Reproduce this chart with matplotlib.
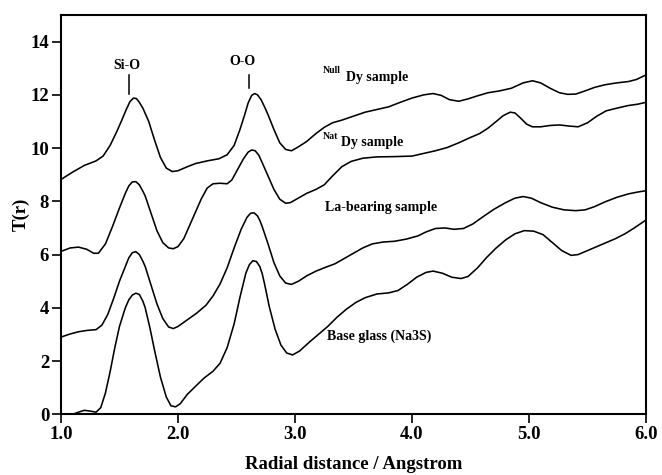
import matplotlib
matplotlib.use("Agg")
import matplotlib.pyplot as plt

plt.rcParams['font.family'] = ['Liberation Serif', 'DejaVu Serif']
plt.rcParams['font.weight'] = 'bold'

# ---- data ----
null_x = [1.00, 1.10, 1.20, 1.30, 1.36, 1.42, 1.48, 1.52, 1.56, 1.59, 1.62, 1.645, 1.67, 1.70,
          1.75, 1.80, 1.85, 1.90, 1.95, 2.00, 2.08, 2.15, 2.25, 2.35, 2.42, 2.48, 2.53, 2.57,
          2.60, 2.63, 2.655, 2.68, 2.71, 2.74, 2.77, 2.82, 2.87, 2.92, 2.97, 3.03, 3.10, 3.18,
          3.25, 3.32, 3.40, 3.50, 3.60, 3.70, 3.80, 3.90, 4.00, 4.10, 4.18, 4.25, 4.32, 4.40,
          4.48, 4.55, 4.65, 4.75, 4.85, 4.95, 5.03, 5.10, 5.18, 5.26, 5.33, 5.40, 5.48, 5.56,
          5.65, 5.75, 5.85, 5.92, 6.00]
null_y = [8.82, 9.10, 9.35, 9.52, 9.70, 10.10, 10.65, 11.05, 11.47, 11.75, 11.88, 11.86, 11.72, 11.50,
          11.00, 10.30, 9.65, 9.25, 9.12, 9.15, 9.30, 9.42, 9.52, 9.60, 9.75, 10.10, 10.70, 11.25,
          11.70, 11.98, 12.05, 12.00, 11.82, 11.55, 11.25, 10.70, 10.20, 9.95, 9.90, 10.05, 10.25, 10.55,
          10.78, 10.95, 11.05, 11.20, 11.35, 11.45, 11.55, 11.72, 11.88, 12.00, 12.05, 11.98, 11.82, 11.76,
          11.85, 11.95, 12.08, 12.15, 12.25, 12.45, 12.53, 12.45, 12.25, 12.08, 12.02, 12.03, 12.15, 12.28,
          12.38, 12.45, 12.50, 12.58, 12.75]

nat_x = [1.00, 1.08, 1.15, 1.22, 1.28, 1.32, 1.38, 1.44, 1.50, 1.55, 1.58, 1.61, 1.64, 1.67,
         1.70, 1.72, 1.77, 1.82, 1.87, 1.92, 1.96, 2.00, 2.05, 2.10, 2.15, 2.20, 2.25, 2.30,
         2.36, 2.42, 2.46, 2.51, 2.56, 2.60, 2.63, 2.66, 2.69, 2.72, 2.77, 2.82, 2.87, 2.92,
         2.96, 3.02, 3.10, 3.18, 3.25, 3.32, 3.40, 3.48, 3.58, 3.70, 3.85, 4.00, 4.10, 4.20,
         4.30, 4.40, 4.50, 4.58, 4.65, 4.72, 4.78, 4.84, 4.88, 4.93, 4.98, 5.03, 5.10, 5.18,
         5.26, 5.34, 5.42, 5.50, 5.58, 5.66, 5.75, 5.85, 5.93, 6.00]
nat_y = [6.12, 6.25, 6.28, 6.20, 6.05, 6.05, 6.40, 7.05, 7.75, 8.30, 8.58, 8.73, 8.74, 8.62,
         8.38, 8.20, 7.55, 6.90, 6.45, 6.25, 6.22, 6.30, 6.60, 7.10, 7.60, 8.10, 8.50, 8.66,
         8.68, 8.66, 8.80, 9.20, 9.60, 9.85, 9.93, 9.90, 9.74, 9.45, 8.95, 8.45, 8.08, 7.93,
         7.95, 8.10, 8.30, 8.45, 8.62, 8.95, 9.30, 9.50, 9.62, 9.67, 9.68, 9.70, 9.80, 9.90,
         10.02, 10.20, 10.40, 10.55, 10.75, 11.00, 11.22, 11.35, 11.32, 11.12, 10.90, 10.80, 10.80, 10.85,
         10.87, 10.83, 10.80, 10.95, 11.20, 11.40, 11.50, 11.60, 11.65, 11.72]

la_x = [1.00, 1.08, 1.15, 1.22, 1.30, 1.35, 1.40, 1.45, 1.50, 1.55, 1.58, 1.61, 1.64, 1.67,
        1.70, 1.72, 1.77, 1.82, 1.87, 1.92, 1.96, 2.00, 2.08, 2.16, 2.24, 2.30, 2.36, 2.42,
        2.48, 2.54, 2.59, 2.62, 2.65, 2.68, 2.70, 2.72, 2.77, 2.82, 2.87, 2.92, 2.97, 3.03,
        3.10, 3.18, 3.26, 3.34, 3.42, 3.50, 3.58, 3.66, 3.75, 3.85, 3.95, 4.05, 4.12, 4.20,
        4.28, 4.36, 4.44, 4.52, 4.60, 4.70, 4.80, 4.88, 4.95, 5.02, 5.10, 5.20, 5.30, 5.40,
        5.48, 5.56, 5.65, 5.75, 5.85, 5.93, 6.00]
la_y = [2.90, 3.02, 3.10, 3.15, 3.18, 3.35, 3.75, 4.35, 5.00, 5.55, 5.88, 6.07, 6.11, 6.00,
        5.75, 5.55, 4.85, 4.15, 3.60, 3.28, 3.22, 3.30, 3.55, 3.80, 4.10, 4.45, 4.90, 5.50,
        6.25, 6.95, 7.40, 7.55, 7.57, 7.45, 7.28, 7.05, 6.40, 5.70, 5.20, 4.93, 4.88, 5.00,
        5.20, 5.38, 5.52, 5.65, 5.85, 6.05, 6.25, 6.40, 6.47, 6.50, 6.58, 6.70, 6.85, 6.98,
        7.00, 6.95, 6.98, 7.15, 7.40, 7.70, 7.95, 8.12, 8.18, 8.12, 7.95, 7.78, 7.68, 7.65,
        7.68, 7.80, 7.98, 8.15, 8.28, 8.35, 8.40]

base_x = [1.10, 1.15, 1.20, 1.25, 1.30, 1.34, 1.38, 1.42, 1.46, 1.50, 1.55, 1.58, 1.61, 1.64,
          1.67, 1.70, 1.72, 1.76, 1.80, 1.85, 1.90, 1.94, 1.98, 2.02, 2.08, 2.15, 2.22, 2.30,
          2.36, 2.42, 2.48, 2.53, 2.58, 2.61, 2.64, 2.67, 2.70, 2.72, 2.74, 2.78, 2.83, 2.88,
          2.93, 2.98, 3.04, 3.12, 3.20, 3.28, 3.36, 3.44, 3.52, 3.60, 3.70, 3.80, 3.88, 3.96,
          4.04, 4.12, 4.18, 4.26, 4.34, 4.42, 4.48, 4.56, 4.64, 4.72, 4.80, 4.88, 4.96, 5.04,
          5.12, 5.20, 5.28, 5.36, 5.42, 5.50, 5.58, 5.66, 5.74, 5.82, 5.90, 6.00]
base_y = [0.00, 0.08, 0.15, 0.12, 0.08, 0.25, 0.80, 1.60, 2.50, 3.30, 4.00, 4.30, 4.48, 4.55,
          4.50, 4.25, 4.00, 3.25, 2.40, 1.40, 0.65, 0.32, 0.28, 0.40, 0.75, 1.05, 1.35, 1.62,
          1.92, 2.50, 3.40, 4.40, 5.30, 5.62, 5.77, 5.74, 5.55, 5.28, 4.90, 4.05, 3.20, 2.60,
          2.30, 2.23, 2.38, 2.70, 3.00, 3.30, 3.65, 3.95, 4.20, 4.38, 4.52, 4.56, 4.65, 4.88,
          5.15, 5.33, 5.38, 5.30, 5.15, 5.10, 5.18, 5.50, 5.90, 6.25, 6.55, 6.78, 6.90, 6.88,
          6.75, 6.45, 6.15, 5.97, 6.00, 6.15, 6.30, 6.45, 6.60, 6.78, 7.00, 7.30]

x_ticks = [1.0, 2.0, 3.0, 4.0, 5.0, 6.0]
x_tick_labels = ['1.0', '2.0', '3.0', '4.0', '5.0', '6.0']
y_ticks = [0, 2, 4, 6, 8, 10, 12, 14]

fig = plt.figure(figsize=(6.62, 4.75), dpi=100)
ax = fig.add_axes([0.0921, 0.1278, 0.8837, 0.8406])

for xs, ys in [(null_x, null_y), (nat_x, nat_y), (la_x, la_y), (base_x, base_y)]:
    ax.plot(xs, ys, color='black', lw=1.15, solid_joinstyle='round')

ax.set_xlim(1.0, 6.0)
ax.set_ylim(0, 15)
ax.set_xticks(x_ticks)
ax.set_xticklabels(x_tick_labels)
ax.set_yticks(y_ticks)

for s in ax.spines.values():
    s.set_linewidth(1.5)
ax.tick_params(axis='both', which='both', direction='out', length=6.5, width=1.2,
               labelsize=13.5, top=False, right=False, pad=2)
for lbl in ax.get_xticklabels() + ax.get_yticklabels():
    lbl.set_fontweight('bold')

ax.set_xlabel('Radial distance / Angstrom', fontsize=13.5, fontweight='bold', labelpad=9)
ax.set_ylabel('T(r)', fontsize=13.5, fontweight='bold', labelpad=0.5)

# peak annotations
ax.text(1.565, 13.12, 'Si-O', ha='center', va='center', fontsize=10, fontweight='bold')
ax.plot([1.585, 1.585], [12.02, 12.74], color='black', lw=1.1)
ax.text(2.555, 13.25, 'O-O', ha='center', va='center', fontsize=10, fontweight='bold')
ax.plot([2.61, 2.61], [12.25, 12.74], color='black', lw=1.1)

# curve labels
ax.text(3.24, 12.93, 'Null', ha='left', va='center', fontsize=7, fontweight='bold')
ax.text(3.435, 12.67, 'Dy sample', ha='left', va='center', fontsize=10, fontweight='bold')
ax.text(3.24, 10.45, 'Nat', ha='left', va='center', fontsize=7, fontweight='bold')
ax.text(3.39, 10.22, 'Dy sample', ha='left', va='center', fontsize=10, fontweight='bold')
ax.text(3.256, 7.78, 'La-bearing sample', ha='left', va='center', fontsize=10, fontweight='bold')
ax.text(3.27, 2.94, 'Base glass (Na3S)', ha='left', va='center', fontsize=10, fontweight='bold')

fig.savefig('out.png', dpi=100)
